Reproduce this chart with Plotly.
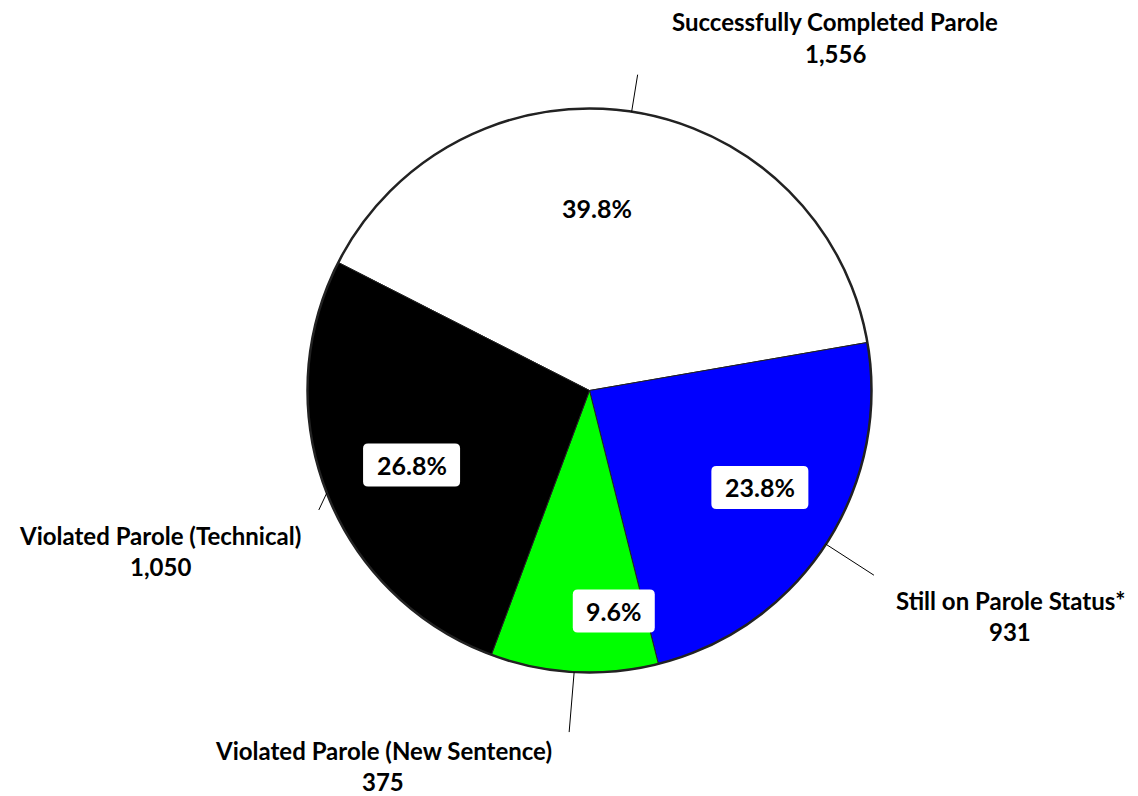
import math
import plotly.graph_objects as go

# ---- data ----
categories = ["Successfully Completed Parole", "Still on Parole Status*",
              "Violated Parole (New Sentence)", "Violated Parole (Technical)"]
counts = [1556, 931, 375, 1050]

# ---- styles ----
colors = ["#FFFFFF", "#0000FF", "#00FF00", "#000000"]
FONT = "Lato"
W, H = 1138, 796
CX, CY, R = 589.5, 390.5, 282
ROT = -63
# inner percent label placement: (radius fraction, angle offset deg)
inner_place = [(0.648, -6.3), (0.695, -3.4), (0.787, -9.4), (0.684, -1.4)]
# leader line end offsets from slice-edge midpoint (px)
leader_off = [(6, -37), (48, 31), (-5, 60), (-8, 17)]
# outer label anchor (px, centre of first line)
outer_anchor = [(835, 22), (1010, 600), (383, 750), (160, 535)]


def px(x):
    return x / W


def py(y):
    return 1 - y / H


def rounded_box(x0, y0, x1, y1, r):
    pts = [
        f"M {px(x0 + r)} {py(y0)}",
        f"L {px(x1 - r)} {py(y0)}",
        f"Q {px(x1)} {py(y0)} {px(x1)} {py(y0 + r)}",
        f"L {px(x1)} {py(y1 - r)}",
        f"Q {px(x1)} {py(y1)} {px(x1 - r)} {py(y1)}",
        f"L {px(x0 + r)} {py(y1)}",
        f"Q {px(x0)} {py(y1)} {px(x0)} {py(y1 - r)}",
        f"L {px(x0)} {py(y0 + r)}",
        f"Q {px(x0)} {py(y0)} {px(x0 + r)} {py(y0)} Z",
    ]
    return " ".join(pts)


total = sum(counts)
fig = go.Figure(go.Pie(
    labels=categories, values=counts, sort=False, direction="clockwise",
    rotation=ROT, textinfo="none", showlegend=False,
    hoverinfo="label+value+percent",
    marker=dict(colors=colors, line=dict(color="#222222", width=1)),
    domain=dict(x=[px(CX - R), px(CX + R)], y=[py(CY + R), py(CY - R)]),
))

shapes = [dict(type="circle", xref="paper", yref="paper", layer="above",
               x0=px(CX - R), x1=px(CX + R), y0=py(CY + R), y1=py(CY - R),
               line=dict(color="#222222", width=2.5))]
annotations = []
font = dict(family=FONT, size=24, color="#000000", weight="bold")
pfont = dict(family=FONT, size=25, color="#000000", weight="bold")

start = ROT % 360
for i, (cat, v) in enumerate(zip(categories, counts)):
    span = v / total * 360
    mid = start + span / 2
    start += span
    # inner percentage label
    frac, off = inner_place[i]
    a = math.radians(mid + off)
    lx = CX + frac * R * math.sin(a)
    ly = CY - frac * R * math.cos(a)
    pct = f"{v / total * 100:.1f}%"
    if colors[i] != "#FFFFFF":
        bw = 15 * len(pct) + 22
        bh = 43
        shapes.append(dict(type="path", xref="paper", yref="paper", layer="above",
                           path=rounded_box(lx - bw / 2, ly - bh / 2, lx + bw / 2, ly + bh / 2, 5),
                           fillcolor="#FFFFFF", line=dict(width=0)))
    annotations.append(dict(
        x=px(lx), y=py(ly), xref="paper", yref="paper", text=pct,
        showarrow=False, font=pfont, xanchor="center", yanchor="middle"))
    # leader line
    am = math.radians(mid)
    ex = CX + R * math.sin(am)
    ey = CY - R * math.cos(am)
    dx, dy = leader_off[i]
    shapes.append(dict(type="line", xref="paper", yref="paper",
                       x0=px(ex), y0=py(ey), x1=px(ex + dx), y1=py(ey + dy),
                       line=dict(color="#000000", width=1)))
    # outer labels
    ox, oy = outer_anchor[i]
    annotations.append(dict(
        x=px(ox), y=py(oy), xref="paper", yref="paper", text=cat,
        showarrow=False, font=font, xanchor="center", yanchor="middle"))
    annotations.append(dict(
        x=px(ox), y=py(oy + 31), xref="paper", yref="paper", text=f"{v:,}",
        showarrow=False, font=font, xanchor="center", yanchor="middle"))

fig.update_layout(
    width=W, height=H, margin=dict(l=0, r=0, t=0, b=0),
    paper_bgcolor="#FFFFFF", plot_bgcolor="#FFFFFF",
    shapes=shapes, annotations=annotations,
)
fig.write_html("out.html", config={"displayModeBar": False},
               post_script="document.body.style.margin='0';document.body.style.overflow='hidden';")
